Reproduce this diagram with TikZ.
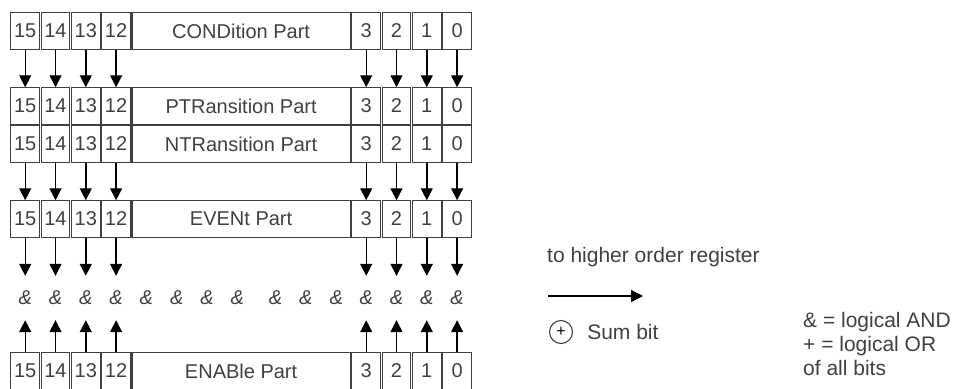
\documentclass[tikz,border=0pt]{standalone}
\usepackage{fontspec}
\setmainfont{Liberation Sans}
\usepackage{tikz}
\usetikzlibrary{arrows.meta, positioning}

\definecolor{regline}{HTML}{404040}
\definecolor{regtext}{HTML}{404040}

\tikzset{
    cell/.style={draw=regline, line width=1.1pt, minimum width=28.6pt, minimum height=36.4pt,
        inner sep=0pt, text=regtext, font=\fontsize{20}{20}\selectfont},
    partcell/.style={cell, minimum width=218.2pt},
    bitarrow/.style={-{Triangle[width=12pt,length=12pt]}, line width=1.4pt},
    andsign/.style={inner sep=0pt, minimum height=44pt, text=regtext,
        font=\itshape\fontsize{20}{20}\selectfont},
    legend/.style={inner sep=0pt, text=regtext, font=\fontsize{21}{24}\selectfont},
}

% one register row: name, y, label
\newcommand{\regrow}[3]{%
    \foreach \b/\x in {15/25.2,14/55.5,13/85.8,12/116.1,3/366.2,2/396.5,1/426.8,0/457.1}
        \node[cell] (#1-\b) at (\x,#2) {\b};
    \node[partcell] (#1-part) at (241.1,#2) {#3};
}

\begin{document}
\begin{tikzpicture}[x=1pt, y=-1pt]
    \useasboundingbox (0,0) rectangle (960,388);

    \regrow{cond}{31}{CONDition Part}
    \regrow{ptr}{106}{PTRansition Part}
    \regrow{ntr}{144}{NTRansition Part}
    \regrow{event}{219}{EVENt Part}
    \regrow{enab}{371}{ENABle Part}

    % the AND gates
    \foreach \b/\x in {15/25.2,14/55.5,13/85.8,12/116.1,11/146.4,10/176.7,9/207,8/237.3,
                       6/275.6,5/305.9,4/336.2,3/366.2,2/396.5,1/426.8,0/457.1}
        \node[andsign] (and-\b) at (\x,298) {\&};

    \foreach \b in {15,14,13,12,3,2,1,0} {
        \draw[bitarrow] (cond-\b) -- (ptr-\b);
        \draw[bitarrow] (ntr-\b) -- (event-\b);
        \draw[bitarrow] (event-\b) -- (and-\b);
        \draw[bitarrow] (enab-\b) -- (and-\b);
    }

    % legend
    \node[legend, anchor=west] (hint) at (547,257) {to higher order register};
    \coordinate (out-start) at (548,296);
    \coordinate (out-end) at (643,296);
    \draw[bitarrow] (out-start) -- (out-end);
    \node[draw=regline, circle, line width=1.1pt, minimum size=23pt, inner sep=0pt,
        font=\fontsize{16}{16}\selectfont] (sum-sym) at (561,332) {+};
    \node[legend, right=14pt of sum-sym] (sum-text) {Sum bit};
    \node[legend, anchor=north west, align=left] (logic) at (803,312)
        {\& = logical AND\\+ = logical OR\\of all bits};
\end{tikzpicture}
\end{document}
